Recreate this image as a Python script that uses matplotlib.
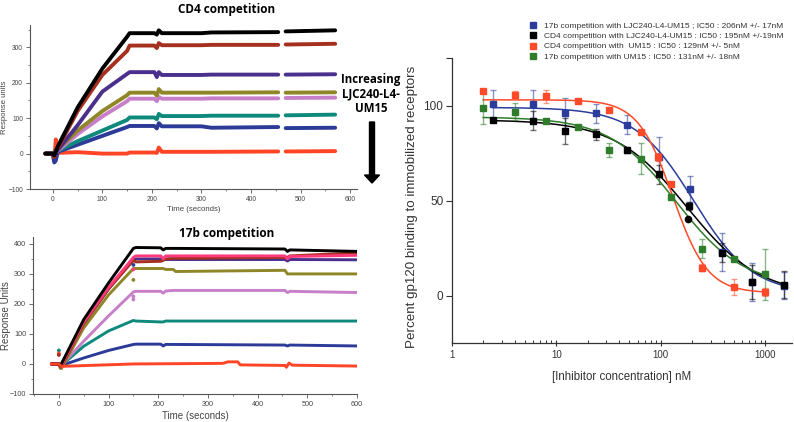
import numpy as np
import matplotlib
matplotlib.use("Agg")
import matplotlib.pyplot as plt
from matplotlib.patches import FancyArrow
from matplotlib.ticker import MultipleLocator, LogLocator, NullFormatter, FixedLocator, FixedFormatter

plt.rcParams['font.family'] = ['Liberation Sans', 'DejaVu Sans']

nan = np.nan
# ---------------- CD4 competition sensorgrams ----------------
t_cd4 = [-15, 0, 3, 6, 10, 50, 100, 150, 155, 205, 210, 214, 220, 300, 320, 455, nan, 470, 570]
cd4_black  = [0, 0, -5, 5, 20, 130, 240, 330, 340, 340, 336, 348, 340, 340, 342, 343, nan, 345, 348]
cd4_brown  = [0, 0, -10, 10, 15, 120, 222, 290, 305, 305, 298, 312, 306, 306, 307, 307, nan, 308, 310]
cd4_indigo = [0, 0, -10, 5, 10, 80, 175, 225, 230, 230, 216, 230, 222, 222, 223, 223, nan, 223, 224]
cd4_olive  = [0, 0, -5, 10, 12, 65, 120, 165, 172, 172, 164, 182, 172, 172, 172, 173, nan, 172, 173]
cd4_orchid = [0, 0, -8, 5, 8, 55, 105, 148, 155, 155, 148, 160, 155, 155, 156, 156, nan, 157, 158]
cd4_teal   = [0, 0, 5, 10, 8, 35, 65, 95, 102, 102, 97, 112, 106, 106, 107, 107, nan, 108, 110]
cd4_blue   = [0, 0, -25, -20, 5, 25, 50, 75, 78, 78, 71, 86, 77, 77, 73, 75, nan, 72, 73]
cd4_red    = [0, 0, -20, 40, 2, 4, 0, 0, 3, 3, 2, 17, 5, 5, 5, 6, nan, 6, 7]

# ---------------- 17b competition sensorgrams ----------------
t_17b = [-15, 0, 3, 5, 50, 100, 150, 155, 205, 210, 215, 230, 235, 455, 460, 465, 600]
b17_black  = [0, 0, -5, 0, 148, 270, 385, 388, 387, 380, 385, 385, 385, 383, 375, 380, 375]
b17_pink   = [0, 0, 0, -5, 140, 255, 355, 360, 360, 350, 360, 360, 360, 360, 350, 358, 362]
b17_brown  = [0, 0, -10, -10, 135, 250, 345, 340, 342, 345, 350, 352, 352, 355, 355, 360, 370]
b17_navy   = [0, 0, -5, 0, 135, 250, 350, 350, 350, 350, 348, 348, 348, 348, 343, 348, 347]
b17_olive  = [0, 0, -15, -15, 120, 230, 318, 318, 318, 318, 315, 315, 308, 312, 300, 300, 300]
b17_orchid = [0, 0, -5, -5, 76, 160, 240, 242, 242, 236, 243, 245, 245, 245, 238, 242, 238]
b17_teal   = [0, 0, -5, -5, 59, 110, 145, 143, 140, 140, 143, 143, 143, 143, 143, 143, 143]
b17_blue   = [0, 0, -5, -5, 20, 45, 65, 66, 66, 60, 65, 65, 65, 63, 60, 63, 60]
t_17b_red  = [-15, 0, 5, 150, 330, 340, 360, 365, 455, 458, 463, 470, 600]
b17_red    = [0, 0, -8, 0, 2, 7, 7, -3, -5, -11, 3, -4, -7]
b17_dots_t = [0, 0, 0, 150, 150, 150, 150, 150]
b17_dots_y = [45, 35, 30, 330, 315, 280, 225, 215]

# ---------------- dose response ----------------
red_x = [2, 4, 8, 16, 32, 64, 94, 125, 250, 500, 1000]
red_y = [107.4, 105.7, 104.8, 102.3, 97.7, 86.2, 73.0, 58.5, 14.8, 4.6, 2.1]
red_e = [1, 2, 3.5, 1, 1, 1, 2, 1, 2, 4, 2]
blue_x = [2.5, 6, 12, 24, 48, 96, 190, 382, 750, 1500]
blue_y = [100.7, 100.7, 96.1, 95.9, 89.8, 73.0, 56.2, 22.8, 7.2, 5.3]
blue_e = [7.5, 7.5, 8, 5, 5, 10.5, 7, 10, 10, 7]
black_x = [2.5, 6, 12, 24, 48, 96, 187, 382, 750, 1500]
black_y = [92.6, 91.9, 86.7, 84.8, 76.7, 63.8, 47.3, 22.6, 7.2, 5.8]
black_e = [1, 5, 7, 3, 1.5, 5, 2, 5, 9, 7]
black_circle_x = [182]
black_circle_y = [40.3]
green_x = [2, 4, 8, 16, 32, 64, 124, 250, 500, 1000]
green_y = [98.6, 96.8, 91.7, 88.5, 76.7, 72.1, 51.9, 24.6, 19.1, 11.3]
green_e = [8.5, 4.5, 1, 1, 3.5, 8, 1, 5, 1, 13.5]

# logistic fit parameters (top, bottom, x0, hill, xmin, xmax) per series
fit_blue = (99, 1, 206, 1.55, 2.5, 1500)
fit_black = (92.5, 0, 180, 1.25, 2.5, 1500)
fit_red = (103, 1.5, 130, 2.6, 2, 1000)
fit_green = (94, 5, 140, 1.35, 2, 1000)

legend_labels = [
    "17b competition with LJC240-L4-UM15 ; IC50 : 206nM +/- 17nM",
    "CD4 competition with LJC240-L4-UM15 : IC50 : 195nM +/-19nM",
    "CD4 competition with  UM15 : IC50 : 129nM +/- 5nM",
    "17b competition with UM15 : IC50 : 131nM +/- 18nM",
]

C_BLACK = '#000000'; C_BROWN = '#a5301f'; C_INDIGO = '#4a2f8c'; C_OLIVE = '#8f8628'
C_ORCHID = '#c77fc9'; C_TEAL = '#0e8a7d'; C_BLUE = '#2c3a98'; C_RED = '#ff4526'
C_PINK = '#ff3a7c'

fig = plt.figure(figsize=(7.94, 4.22), dpi=100)

def style_left(ax, ylab, xfs, lfs, ylab_x):
    for s in ['top', 'right']:
        ax.spines[s].set_visible(False)
    for s in ['left', 'bottom']:
        ax.spines[s].set_color('#555555')
        ax.spines[s].set_linewidth(0.8)
    ax.xaxis.set_major_locator(MultipleLocator(100))
    ax.xaxis.set_minor_locator(MultipleLocator(50))
    ax.yaxis.set_major_locator(MultipleLocator(100))
    ax.yaxis.set_minor_locator(MultipleLocator(50))
    ax.tick_params(which='major', direction='out', length=3, width=0.6, colors='#555555',
                   labelsize=xfs, labelcolor='#444444', pad=2)
    ax.tick_params(which='minor', direction='out', length=1.5, width=0.5, colors='#555555')
    ax.set_ylabel(ylab, fontsize=lfs, color='#444444')
    ax.yaxis.set_label_coords(ylab_x, 0.5)
    ax.set_xlabel('Time (seconds)', fontsize=lfs, color='#444444', labelpad=2)

# ---- top-left ----
ax1 = fig.add_axes([0.0378, 0.5521, 0.4118, 0.3886])
for y, c in [(cd4_red, C_RED), (cd4_blue, C_BLUE), (cd4_teal, C_TEAL), (cd4_orchid, C_ORCHID),
             (cd4_olive, C_OLIVE), (cd4_indigo, C_INDIGO), (cd4_brown, C_BROWN), (cd4_black, C_BLACK)]:
    ax1.plot(t_cd4, y, color=c, lw=2.8, solid_capstyle='round', solid_joinstyle='round')
ax1.set_xlim(-46, 614)
ax1.set_ylim(-100, 363)
style_left(ax1, 'Response units', 4.8, 5.6, -0.068)
fig.text(227 / 794, 1 - 10 / 422, 'CD4 competition', ha='center', va='center', fontsize=8.5,
         fontweight='bold', family='Open Sans')

# ---- bottom-left ----
ax2 = fig.add_axes([0.0416, 0.0664, 0.408, 0.372])
for y, c in [(b17_blue, C_BLUE), (b17_teal, C_TEAL), (b17_orchid, C_ORCHID), (b17_olive, C_OLIVE),
             (b17_navy, C_INDIGO), (b17_brown, C_BROWN), (b17_pink, C_PINK), (b17_black, C_BLACK)]:
    ax2.plot(t_17b, y, color=c, lw=2.1, solid_capstyle='round', solid_joinstyle='round')
ax2.plot(t_17b_red, b17_red, color=C_RED, lw=2.1)
ax2.scatter(b17_dots_t, b17_dots_y, s=3, c=[C_TEAL, C_RED, C_BROWN, C_BLUE, C_PINK, C_OLIVE, C_ORCHID, C_ORCHID], zorder=3)
ax2.set_xlim(-52, 600)
ax2.set_ylim(-100, 423)
style_left(ax2, 'Response Units', 5.2, 7, -0.068)
fig.text(227 / 794, 1 - 233 / 422, '17b competition', ha='center', va='center', fontsize=8.5,
         fontweight='bold', family='Open Sans')

# ---- annotation: increasing ----
for txt, yy in [('Increasing', 79), ('LJC240-L4-', 94), ('UM15', 109)]:
    fig.text(371 / 794, 1 - yy / 422, txt, ha='center', va='center', fontsize=8.3,
             fontweight='bold', family='Open Sans')
arrow = FancyArrow(3.72, 4.22 - 1.22, 0, -0.61, width=0.05, head_width=0.15, head_length=0.08,
                   length_includes_head=True, transform=fig.dpi_scale_trans, color='black')
fig.add_artist(arrow)

# ---- right panel ----
ax3 = fig.add_axes([0.5689, 0.1865, 0.428, 0.6761])
ax3.set_xscale('log')
ax3.set_xlim(1, 1780)
ax3.set_ylim(-25, 125)

def logistic(p):
    top, bot, x0, n, xmin, xmax = p
    xs = np.logspace(np.log10(xmin), np.log10(xmax), 200)
    return xs, bot + (top - bot) / (1 + (xs / x0) ** n)

series = [
    (blue_x, blue_y, blue_e, fit_blue, '#2b3c9c'),
    (black_x, black_y, black_e, fit_black, '#000000'),
    (red_x, red_y, red_e, fit_red, '#ff4a2a'),
    (green_x, green_y, green_e, fit_green, '#2f7d2a'),
]
handles = []
for x, y, e, p, c in series:
    ax3.errorbar(x, y, yerr=e, fmt='none', ecolor=c, alpha=0.55, elinewidth=1.0, capsize=2.5, capthick=1.0)
    xs, ys = logistic(p)
    ax3.plot(xs, ys, color=c, lw=1.1)
    h, = ax3.plot(x, y, 's', color=c, ms=4.5, mec=c, zorder=4)
    handles.append(h)
ax3.plot(black_circle_x, black_circle_y, 'o', color='black', ms=4.5, zorder=4)

for s in ['top', 'right']:
    ax3.spines[s].set_visible(False)
for s in ['left', 'bottom']:
    ax3.spines[s].set_color('#333333')
    ax3.spines[s].set_linewidth(0.9)
ax3.set_yticks([0, 50, 100])
ax3.yaxis.set_minor_locator(FixedLocator([125]))
ax3.tick_params(axis='y', which='major', direction='out', length=4, width=0.8, labelsize=8.5,
                colors='#333333', labelcolor='#333333', pad=2)
ax3.tick_params(axis='y', which='minor', direction='out', length=4, width=0.8, colors='#333333')
ax3.xaxis.set_major_locator(FixedLocator([1, 10, 100, 1000]))
ax3.xaxis.set_major_formatter(FixedFormatter(['1', '10', '100', '1000']))
ax3.xaxis.set_minor_locator(LogLocator(base=10, subs=np.arange(2, 10), numticks=20))
ax3.xaxis.set_minor_formatter(NullFormatter())
ax3.tick_params(axis='x', which='major', direction='inout', length=5, width=0.8, labelsize=7,
                colors='#333333', labelcolor='#333333', pad=2)
ax3.tick_params(axis='x', which='minor', direction='in', length=2.5, width=0.7, colors='#333333')
ax3.set_xlabel('[Inhibitor concentration] nM', fontsize=8.3, color='#333333', labelpad=8)
ax3.set_ylabel('Percent gp120 binding to immobilized receptors', fontsize=9.6, color='#333333')
ax3.yaxis.set_label_coords(-0.098, 0.478)

leg = fig.legend(handles, legend_labels, loc='upper left', bbox_to_anchor=(530 / 794, 1 - 22 / 422),
                 frameon=False, fontsize=6.0, handlelength=0.8, handletextpad=0.9,
                 labelspacing=0.3, markerscale=1.0, borderpad=0, borderaxespad=0)
for t in leg.get_texts():
    t.set_color('#333333')

fig.savefig('out.png', dpi=100)
